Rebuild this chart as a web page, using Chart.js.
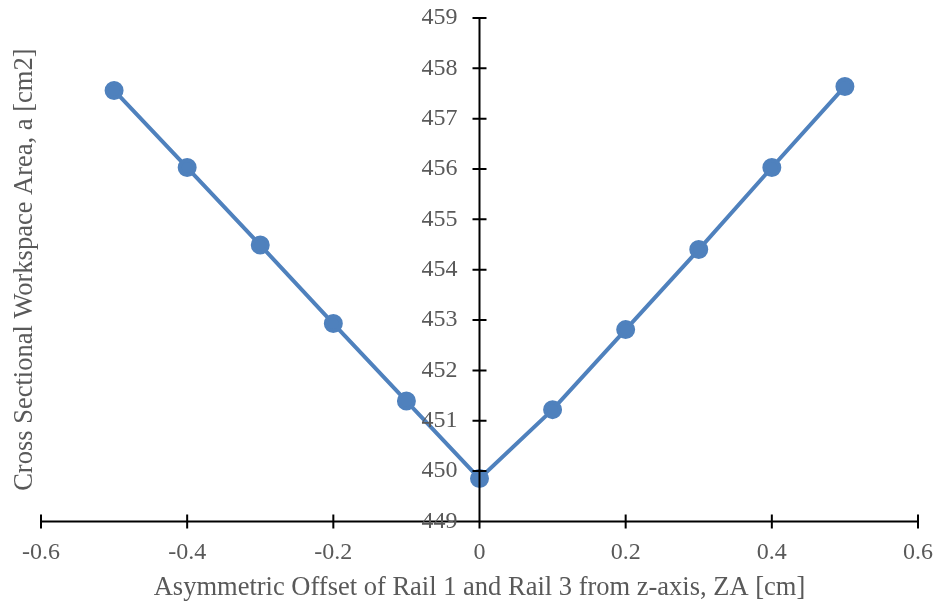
<!DOCTYPE html>
<html lang="en">
<head>
  <meta charset="UTF-8">
  <title>Cross Sectional Workspace Area</title>
  <script src="https://cdn.jsdelivr.net/npm/chart.js"></script>
  <style>
    html, body { margin: 0; padding: 0; background: #fff; }
    #wrap { width: 937px; height: 604px; }
  </style>
</head>
<body>
  <div id="wrap">
    <canvas id="areaChart" width="937" height="604"></canvas>
  </div>

  <script>
    // offsets [cm] and areas [cm2]
    const offsets = [-0.5, -0.4, -0.3, -0.2, -0.1, 0, 0.1, 0.2, 0.3, 0.4, 0.5];
    const areas = [457.56, 456.03, 454.49, 452.93, 451.39, 449.85, 451.22, 452.81, 454.40, 456.03, 457.64];
    const yTicks = [449, 450, 451, 452, 453, 454, 455, 456, 457, 458, 459];
    const xTitle = 'Asymmetric Offset of Rail 1 and Rail 3 from z-axis, ZA [cm]';
    const yTitle = 'Cross Sectional Workspace Area, a [cm2]';

    const FONT = "'Liberation Serif', 'Times New Roman', serif";
    const GREY = '#595959';

    // axes cross at x = 0; ticks go through the axis lines like in Excel
    const crossAxes = {
      id: 'crossAxes',
      afterDraw(chart) {
        const ctx = chart.ctx;
        const xs = chart.scales.x, ys = chart.scales.y;
        const x0 = xs.getPixelForValue(0);
        const yb = ys.getPixelForValue(449);
        const t = 7;
        ctx.save();
        ctx.strokeStyle = '#000';
        ctx.lineWidth = 2;
        ctx.beginPath();
        ctx.moveTo(xs.left, yb); ctx.lineTo(xs.right, yb);
        ctx.moveTo(x0, ys.top); ctx.lineTo(x0, ys.bottom);
        xs.ticks.forEach(tk => {
          const px = xs.getPixelForValue(tk.value);
          ctx.moveTo(px, yb - t); ctx.lineTo(px, yb + t);
        });
        yTicks.forEach(v => {
          const py = ys.getPixelForValue(v);
          ctx.moveTo(x0 - t, py); ctx.lineTo(x0 + t, py);
        });
        ctx.stroke();

        ctx.fillStyle = GREY;
        ctx.font = '24px ' + FONT;
        ctx.textAlign = 'right';
        ctx.textBaseline = 'middle';
        yTicks.forEach(v => {
          ctx.fillText(String(v), x0 - 22, ys.getPixelForValue(v));
        });

        ctx.font = '26.5px ' + FONT;
        ctx.textAlign = 'center';
        ctx.translate(25, (ys.top + ys.bottom) / 2);
        ctx.rotate(-Math.PI / 2);
        ctx.fillText(yTitle, 0, 0);
        ctx.restore();
      }
    };

    new Chart(document.getElementById('areaChart').getContext('2d'), {
      type: 'scatter',
      data: {
        datasets: [{
          data: offsets.map((x, i) => ({ x: x, y: areas[i] })),
          showLine: true,
          borderColor: '#4F81BD',
          backgroundColor: '#4F81BD',
          borderWidth: 4,
          pointRadius: 7.5,
          pointHoverRadius: 7.5,
          tension: 0
        }]
      },
      options: {
        responsive: false,
        animation: false,
        layout: { padding: { left: 41, right: 19, top: 18, bottom: 0 } },
        plugins: { legend: { display: false }, tooltip: { enabled: false } },
        scales: {
          x: {
            type: 'linear',
            min: -0.6,
            max: 0.6,
            grid: { display: false, drawTicks: false },
            border: { display: false },
            afterFit(s) { s.paddingLeft = 0; s.paddingRight = 0; },
            ticks: {
              stepSize: 0.2,
              padding: 17,
              color: GREY,
              font: { family: FONT, size: 24 },
              callback: v => String(Math.round(v * 10) / 10)
            },
            title: {
              display: true,
              text: xTitle,
              color: GREY,
              font: { family: FONT, size: 26.5 },
              padding: { top: -12, bottom: 0 }
            }
          },
          y: {
            type: 'linear',
            position: { x: 0 },
            min: 449,
            max: 459,
            grid: { display: false, drawTicks: false },
            border: { display: false },
            ticks: { display: false, stepSize: 1 }
          }
        }
      },
      plugins: [crossAxes]
    });
  </script>
</body>
</html>
